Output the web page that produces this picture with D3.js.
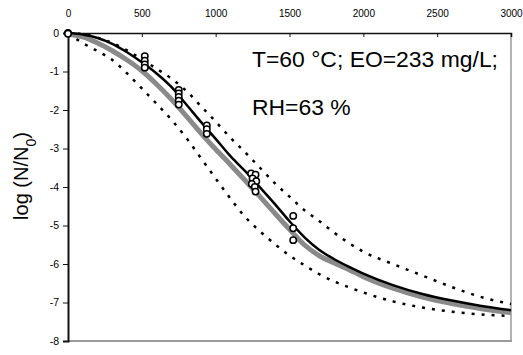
<!DOCTYPE html>
<html>
<head>
<meta charset="utf-8">
<script src="https://cdn.jsdelivr.net/npm/d3@7/dist/d3.min.js"></script>
<style>
  html, body { margin: 0; padding: 0; background: #fff; }
  svg { display: block; font-family: "Liberation Sans", Arial, sans-serif; }
</style>
</head>
<body>
<svg id="chart" width="523" height="355"></svg>
<script>
// ---- data ----
const xTicks = [0, 500, 1000, 1500, 2000, 2500, 3000];
const yTicks = [0, -1, -2, -3, -4, -5, -6, -7, -8];

const curveTime = [0, 100, 200, 300, 400, 500, 600, 700, 800, 900, 1000, 1100, 1200, 1300, 1400, 1500, 1600, 1700, 1800, 1900, 2000, 2200, 2400, 2600, 2800, 3000];
const fitBlack  = [0, -0.04, -0.13, -0.28, -0.5, -0.76, -1.05, -1.4, -1.85, -2.31, -2.75, -3.2, -3.59, -4.01, -4.44, -4.89, -5.3, -5.63, -5.87, -6.07, -6.25, -6.55, -6.78, -6.95, -7.09, -7.2];
const fitGray   = [-0.03, -0.1, -0.26, -0.46, -0.7, -0.98, -1.33, -1.72, -2.15, -2.6, -3.02, -3.42, -3.83, -4.25, -4.68, -5.1, -5.5, -5.78, -5.97, -6.14, -6.33, -6.63, -6.86, -7.03, -7.16, -7.26];
const upperBand = [0, -0.03, -0.12, -0.26, -0.45, -0.68, -0.93, -1.18, -1.5, -1.9, -2.3, -2.72, -3.1, -3.5, -3.9, -4.25, -4.6, -4.88, -5.18, -5.45, -5.68, -6.0, -6.3, -6.6, -6.86, -7.04];
const lowerBand = [-0.02, -0.26, -0.47, -0.7, -1.05, -1.44, -1.84, -2.25, -2.72, -3.25, -3.78, -4.3, -4.78, -5.15, -5.48, -5.78, -6.03, -6.26, -6.45, -6.6, -6.74, -6.97, -7.13, -7.24, -7.31, -7.35];

const obsTime = [0, 0, 520, 520, 520, 520, 750, 750, 750, 750, 750, 940, 940, 940, 1240, 1270, 1250, 1275, 1245, 1265, 1270, 1525, 1525, 1525];
const obsLogN = [0, -0.02, -0.6, -0.72, -0.82, -0.9, -1.48, -1.57, -1.66, -1.76, -1.86, -2.4, -2.5, -2.62, -3.65, -3.68, -3.78, -3.85, -3.92, -4.0, -4.12, -4.75, -5.07, -5.38];

const annotLines = ["T=60 °C; EO=233 mg/L;", "RH=63 %"];

// ---- layout ----
const svg = d3.select("#chart");
const L = 68, R = 511, T = 33, B = 341;
const x = d3.scaleLinear().domain([0, 3000]).range([L, R]);
const y = d3.scaleLinear().domain([-8, 0]).range([B, T]);

// frame: bottom and right gray
svg.append("line").attr("x1", L).attr("x2", R + 1).attr("y1", B).attr("y2", B)
  .attr("stroke", "#9a9a9a").attr("stroke-width", 2);
svg.append("line").attr("x1", R).attr("x2", R).attr("y1", T).attr("y2", B)
  .attr("stroke", "#9a9a9a").attr("stroke-width", 1.5);

// top axis
const gTop = svg.append("g").attr("transform", `translate(0,${T})`)
  .call(d3.axisTop(x).tickValues(xTicks).tickSize(-4).tickPadding(16.5).tickFormat(d => String(d)));
gTop.select(".domain").attr("stroke", "#111").attr("stroke-width", 1.6);
gTop.selectAll(".tick line").attr("stroke", "#111").attr("stroke-width", 1);
gTop.selectAll(".tick text").attr("font-size", 10).attr("fill", "#000")
  .attr("font-family", "Liberation Sans, Arial, sans-serif");

// left axis
const gLeft = svg.append("g").attr("transform", `translate(${L},0)`)
  .call(d3.axisLeft(y).tickValues(yTicks).tickSize(5).tickPadding(4).tickFormat(d => String(d)));
gLeft.select(".domain").attr("stroke", "#111").attr("stroke-width", 2);
gLeft.selectAll(".tick line").attr("stroke", "#111").attr("stroke-width", 1);
gLeft.selectAll(".tick text").attr("font-size", 10.5).attr("fill", "#000")
  .attr("font-family", "Liberation Sans, Arial, sans-serif");

// y title
const yt = svg.append("text")
  .attr("transform", "translate(28,176) rotate(-90)")
  .attr("text-anchor", "middle")
  .attr("font-size", 20)
  .attr("fill", "#000");
yt.append("tspan").text("log (N/N");
yt.append("tspan").attr("baseline-shift", "sub").attr("font-size", 14).text("0");
yt.append("tspan").text(")");

// curves
const mk = vals => curveTime.map((t, i) => [t, vals[i]]);
const line = d3.line().x(d => x(d[0])).y(d => y(d[1])).curve(d3.curveMonotoneX);

const plot = svg.append("g");
plot.append("path").datum(mk(upperBand)).attr("d", line)
  .attr("fill", "none").attr("stroke", "#000").attr("stroke-width", 2.5).attr("stroke-dasharray", "3,7");
plot.append("path").datum(mk(lowerBand)).attr("d", line)
  .attr("fill", "none").attr("stroke", "#000").attr("stroke-width", 2.5).attr("stroke-dasharray", "3,7");
plot.append("path").datum(mk(fitGray)).attr("d", line)
  .attr("fill", "none").attr("stroke", "#8a8a8a").attr("stroke-width", 5).attr("stroke-linecap", "butt");
plot.append("path").datum(mk(fitBlack)).attr("d", line)
  .attr("fill", "none").attr("stroke", "#000").attr("stroke-width", 2.5);

// observations
plot.selectAll("circle.obs").data(obsTime.map((t, i) => [t, obsLogN[i]])).enter()
  .append("circle").attr("class", "obs")
  .attr("cx", d => x(d[0])).attr("cy", d => y(d[1])).attr("r", 3.2)
  .attr("fill", "#fff").attr("stroke", "#000").attr("stroke-width", 1.5);

// annotation (condensed to match the narrow original face)
const ann = svg.append("g").selectAll("text").data(annotLines).enter().append("text")
  .attr("x", 252).attr("y", (d, i) => 67 + i * 48)
  .attr("font-size", 22).attr("fill", "#000")
  .attr("font-family", "'Liberation Sans Narrow', 'Liberation Sans', Arial, sans-serif")
  .text(d => d);
const w0 = ann.nodes()[0].getComputedTextLength();
const k = 246 / w0;
ann.each(function () {
  const w = this.getComputedTextLength();
  d3.select(this).attr("textLength", w * k).attr("lengthAdjust", "spacingAndGlyphs");
});
</script>
</body>
</html>
